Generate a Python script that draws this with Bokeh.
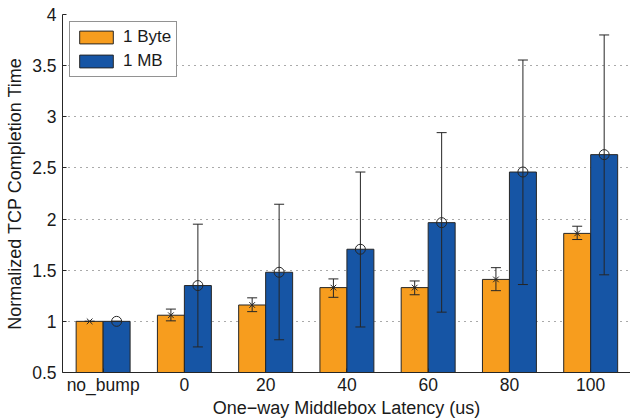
from bokeh.plotting import figure
from bokeh.models import ColumnDataSource, Whisker, TeeHead, FixedTicker, Legend, LegendItem
from bokeh.embed import file_html
from bokeh.resources import INLINE

# ---- data ----
categories = ["no_bump", "0", "20", "40", "60", "80", "100"]
byte1_mean = [1.00, 1.06, 1.16, 1.33, 1.33, 1.41, 1.86]
byte1_low = [1.00, 1.005, 1.095, 1.235, 1.26, 1.30, 1.80]
byte1_high = [1.00, 1.12, 1.23, 1.415, 1.395, 1.525, 1.93]
mb1_mean = [1.00, 1.35, 1.48, 1.705, 1.965, 2.46, 2.63]
mb1_low = [1.00, 0.75, 0.82, 0.945, 1.09, 1.36, 1.455]
mb1_high = [1.00, 1.95, 2.145, 2.46, 2.845, 3.555, 3.80]
y_ticks = [0.5, 1, 1.5, 2, 2.5, 3, 3.5, 4]
y_tick_labels = ["0.5", "1", "1.5", "2", "2.5", "3", "3.5", "4"]
series_names = ["1 Byte", "1 MB"]

ORANGE = "#F79D1E"
BLUE = "#1655A5"
EDGE = "#262626"
FONT = "Liberation Sans"

pos = list(range(1, len(categories) + 1))
bw = 0.332
off = bw / 2

src_a = ColumnDataSource(dict(x=[p_ - off for p_ in pos], top=byte1_mean,
                              lo=byte1_low, hi=byte1_high))
src_b = ColumnDataSource(dict(x=[p_ + off for p_ in pos], top=mb1_mean,
                              lo=mb1_low, hi=mb1_high))

p = figure(width=630, height=420, output_backend="svg", toolbar_location=None,
           x_range=(0.5, 7.49), y_range=(0.5, 4.0),
           min_border_left=62, min_border_right=0, min_border_top=14, min_border_bottom=46)
p.outline_line_color = None
p.background_fill_color = "white"

ra = p.vbar(x="x", top="top", bottom=0.5, width=bw, source=src_a,
            fill_color=ORANGE, line_color=EDGE, line_width=1)
rb = p.vbar(x="x", top="top", bottom=0.5, width=bw, source=src_b,
            fill_color=BLUE, line_color=EDGE, line_width=1)

for src in (src_a, src_b):
    w = Whisker(base="x", lower="lo", upper="hi", source=src,
                line_color=EDGE, line_width=1, level="overlay",
                upper_head=TeeHead(size=10, line_color=EDGE, line_width=1),
                lower_head=TeeHead(size=10, line_color=EDGE, line_width=1))
    p.add_layout(w)

p.scatter(x="x", y="top", source=src_a, marker="x", size=8,
          line_color=EDGE, line_width=1, level="overlay")
p.scatter(x="x", y="top", source=src_b, marker="circle", size=10,
          fill_color=None, line_color=EDGE, line_width=1, level="overlay")

# axes
p.xaxis.ticker = FixedTicker(ticks=pos)
p.xaxis.major_label_overrides = {p_: c for p_, c in zip(pos, categories)}
p.yaxis.ticker = FixedTicker(ticks=y_ticks)
p.yaxis.major_label_overrides = {t: l for t, l in zip(y_ticks, y_tick_labels)}
p.xaxis.axis_label = "One\u2212way Middlebox Latency (us)"
p.yaxis.axis_label = "Normalized TCP Completion Time"

for ax in (p.xaxis, p.yaxis):
    ax.axis_line_color = EDGE
    ax.major_tick_line_color = EDGE
    ax.major_tick_in = 4
    ax.major_tick_out = 0
    ax.minor_tick_line_color = None
    ax.major_label_text_font = FONT
    ax.major_label_text_font_size = "17.5px"
    ax.major_label_text_color = "#1a1a1a"
    ax.axis_label_text_font = FONT
    ax.axis_label_text_font_size = "18px"
    ax.axis_label_text_font_style = "normal"
    ax.axis_label_text_color = "#1a1a1a"
p.xaxis.major_label_standoff = 2
p.xaxis.axis_label_standoff = 0
p.yaxis.major_label_standoff = 6
p.yaxis.axis_label_standoff = 4

p.xgrid.grid_line_color = None
p.ygrid.grid_line_color = "#555555"
p.ygrid.grid_line_dash = "1 5"
p.ygrid.grid_line_width = 1

legend = Legend(items=[LegendItem(label=series_names[0], renderers=[ra]),
                       LegendItem(label=series_names[1], renderers=[rb])],
                location="top_left", orientation="vertical")
legend.glyph_width = 42
legend.glyph_height = 16
legend.label_height = 16
legend.label_standoff = 6
legend.spacing = 4
legend.padding = 5
legend.margin = 7
legend.label_text_font = FONT
legend.label_text_font_size = "17px"
legend.label_text_color = "#1a1a1a"
legend.border_line_color = EDGE
legend.border_line_width = 1
legend.background_fill_alpha = 1
p.add_layout(legend)

open("out.html", "w").write(file_html(p, INLINE))
